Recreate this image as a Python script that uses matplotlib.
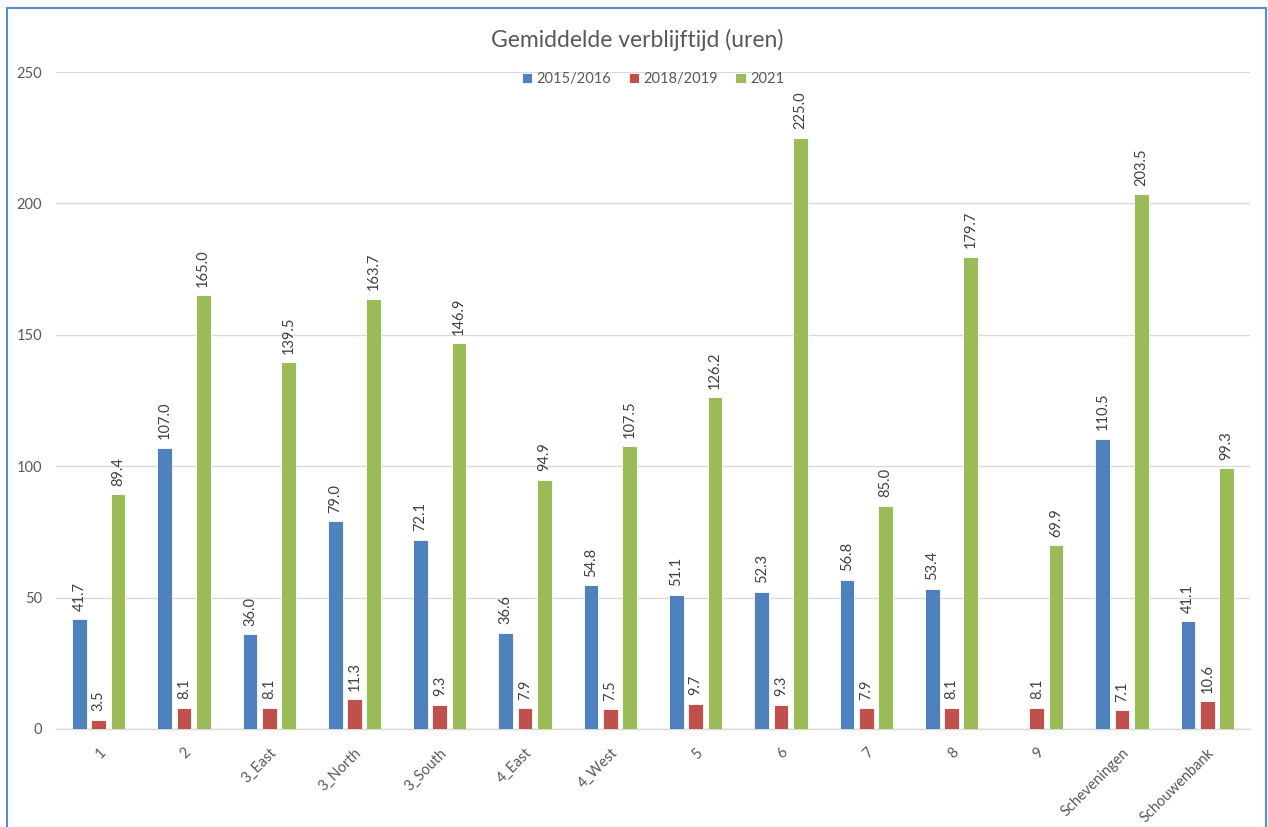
import numpy as np
import matplotlib
matplotlib.use("Agg")
import matplotlib.pyplot as plt
from matplotlib.patches import Rectangle

plt.rcParams['font.family'] = ['Lato', 'DejaVu Sans']

categories = ["1", "2", "3_East", "3_North", "3_South", "4_East", "4_West",
              "5", "6", "7", "8", "9", "Scheveningen", "Schouwenbank"]
series_names = ["2015/2016", "2018/2019", "2021"]
v_2015_2016 = [41.7, 107.0, 36.0, 79.0, 72.1, 36.6, 54.8, 51.1, 52.3, 56.8, 53.4,
               np.nan, 110.5, 41.1]
v_2018_2019 = [3.5, 8.1, 8.1, 11.3, 9.3, 7.9, 7.5, 9.7, 9.3, 7.9, 8.1, 8.1, 7.1, 10.6]
v_2021 = [89.4, 165.0, 139.5, 163.7, 146.9, 94.9, 107.5, 126.2, 225.0, 85.0, 179.7,
          69.9, 203.5, 99.3]
y_ticks = [0, 50, 100, 150, 200, 250]
title = "Gemiddelde verblijftijd (uren)"

colors = ["#4F81BD", "#C0504D", "#9BBB59"]
text_gray = "#595959"

W, H = 1268, 827
fig = plt.figure(figsize=(W / 100, H / 100), dpi=100)
ax = fig.add_axes([56 / W, 1 - 729 / H, (1250 - 56) / W, (729 - 72) / H])

x = np.arange(len(categories))
step = 0.226
width = 0.172
for i, (name, vals, c) in enumerate(zip(series_names,
                                       [v_2015_2016, v_2018_2019, v_2021], colors)):
    pos = x + (i - 1) * step
    vals = np.array(vals, dtype=float)
    ax.bar(pos, vals, width=width, color=c, edgecolor="white", linewidth=0.6,
           label=name, zorder=3)
    for px, v in zip(pos, vals):
        if np.isnan(v):
            continue
        ax.annotate(f"{v:.1f}", (px, v), xytext=(0, 6), textcoords="offset points",
                    rotation=90, ha="center", va="bottom", fontsize=10.5,
                    color="#404040", zorder=4)

ax.set_xlim(-0.5, len(categories) - 0.5)
ax.set_ylim(0, 250)
ax.set_yticks(y_ticks)
ax.yaxis.grid(True, color="#D9D9D9", linewidth=1.0, zorder=0)
ax.set_axisbelow(True)
for s in ["top", "right", "left"]:
    ax.spines[s].set_visible(False)
ax.spines["bottom"].set_color("#D9D9D9")
ax.spines["bottom"].set_linewidth(1.0)
ax.tick_params(axis="both", length=0, colors=text_gray, labelsize=10.5)
ax.tick_params(axis="y", pad=10)
ax.set_xticks(x)
ax.set_xticklabels(categories, rotation=45, ha="right", va="top",
                   rotation_mode="anchor")
ax.tick_params(axis="x", pad=12)

fig.text(637 / W, 1 - 40 / H, title, ha="center", va="center", fontsize=16.5,
         color=text_gray)

ax.legend(loc="center", bbox_to_anchor=(0.5, (79 - 72) / (72 - 729) + 1),
          ncol=3, frameon=False, fontsize=10.5, handlelength=0.7, handleheight=0.7,
          handletextpad=0.3, columnspacing=1.2, labelcolor=text_gray)

fig.patches.append(Rectangle((7 / W, -0.05), (1266 - 7) / W, 1.05 - 8 / H,
                             transform=fig.transFigure, fill=False,
                             edgecolor="#5B8BD0", linewidth=1.5))

fig.savefig("out.png", dpi=100, facecolor="white")
